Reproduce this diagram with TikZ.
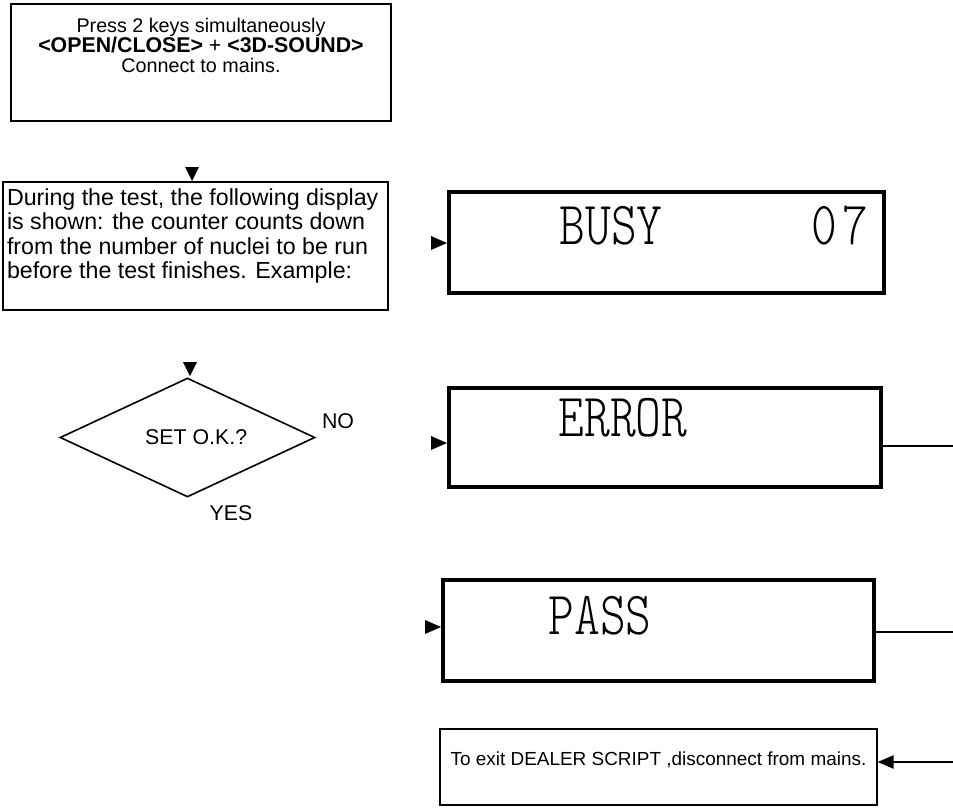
\documentclass[tikz,border=0pt]{standalone}
\usepackage{fontspec}
\usepackage{graphicx}
\setmainfont{Liberation Sans}
\newfontfamily\lcdfont{lmmonolt10-regular.otf}
\usetikzlibrary{shapes.geometric,arrows.meta,calc}
\begin{document}
\begin{tikzpicture}[x=0.75pt,y=-0.75pt,
  box/.style={draw, line width=1.4pt, inner sep=0pt, outer sep=0pt},
  lcdbox/.style={draw, line width=3pt, inner sep=0pt, outer sep=0pt},
  lcd/.style={inner sep=0pt, font=\lcdfont\fontsize{46}{46}\selectfont},
  lbl/.style={inner sep=0pt, font=\fontsize{16}{16}\selectfont},
  link/.style={line width=1.1pt},
  tri/.style={fill=black}
]
\useasboundingbox (0,0) rectangle (953,807);

% left column
\node[box, minimum width=285pt, minimum height=87.75pt] (start) at (201,62.5)
  {\parbox[c][87.75pt][t]{285pt}{\centering\fontsize{14.8}{15}\selectfont
   \vspace*{11pt}Press 2 keys simultaneously\\
   {\fontsize{16}{15}\selectfont\textbf{<OPEN/CLOSE>} + \textbf{<3D-SOUND>}}\\
   Connect to mains.}};

\node[box, minimum width=288.75pt, minimum height=96pt] (during) at (195.5,246)
  {\parbox[c][96pt][t]{288.75pt}{\raggedright\fontsize{17.4}{18.3}\selectfont
   \vspace*{4.8pt}\hspace*{3pt}During the test, the following display\\
   \hspace*{3pt}is shown: the counter counts down\\
   \hspace*{3pt}from the number of nuclei to be run\\
   \hspace*{3pt}before the test finishes. Example:}};

\node[diamond, draw, line width=1.2pt, minimum width=191.25pt, minimum height=89.25pt,
      inner sep=0pt, shape aspect=2.14, font=\fontsize{16}{16}\selectfont]
  (dec) at (187.5,437.5) {\hspace*{13pt}SET O.K.?};
\node[lbl] (no) at (338,421) {NO};
\node[lbl] (yes) at (231,513) {YES};

% right column: displays
\node[lcdbox, minimum width=326.25pt, minimum height=75.75pt] (busy) at (666.5,242.5) {};
\node[lcd] (busyt) at ($(busy.center)+(-55.5,-16.5)$) {\scalebox{0.8}[1]{BUSY}};
\node[lcd] (busyn) at ($(busy.center)+(173.5,-16.5)$) {\scalebox{0.8}[1]{0\hspace{5pt}7}};

\node[lcdbox, minimum width=324pt, minimum height=74.25pt] (err) at (665,437.5) {};
\node[lcd] (errt) at ($(err.center)+(-42,-19.5)$) {\scalebox{0.8}[1]{ERROR}};

\node[lcdbox, minimum width=323.25pt, minimum height=75.75pt] (pass) at (658.5,630.5) {};
\node[lcd] (passt) at ($(pass.center)+(-58.5,-14.5)$) {\scalebox{0.8}[1]{PASS}};

\node[draw, line width=1pt, inner sep=0pt, minimum width=327.75pt, minimum height=57pt]
  (exit) at (658.5,767)
  {\parbox[c][57pt][t]{327.75pt}{\centering\fontsize{14.2}{15}\selectfont
   \vspace*{17.3pt}To exit DEALER SCRIPT ,disconnect from mains.}};

% arrowheads (no shafts)
\fill[tri] ($(during.north)+(-3.5,-1)$) -- ++(-7,-14) -- ++(14,0) -- cycle;
\fill[tri] ($(dec.north)+(2.5,-1)$) -- ++(-7,-14) -- ++(14,0) -- cycle;
\fill[tri] ($(busy.west)+(-2,0.5)$) -- ++(-16,-7) -- ++(0,14) -- cycle;
\fill[tri] ($(err.west)+(-2,5.5)$) -- ++(-16,-7) -- ++(0,14) -- cycle;
\fill[tri] ($(pass.west)+(-2,-3.5)$) -- ++(-16,-7) -- ++(0,14) -- cycle;

% outgoing lines
\coordinate (errout) at (953,446);
\coordinate (passout) at (953,632);
\coordinate (exitin) at (953,762);
\draw[link] (err.east |- errout) -- (errout);
\draw[link] (pass.east |- passout) -- (passout);
\draw[link, -{Triangle[length=12pt,width=10pt]}] (exitin) -- (exit.east |- exitin);
\end{tikzpicture}
\end{document}
